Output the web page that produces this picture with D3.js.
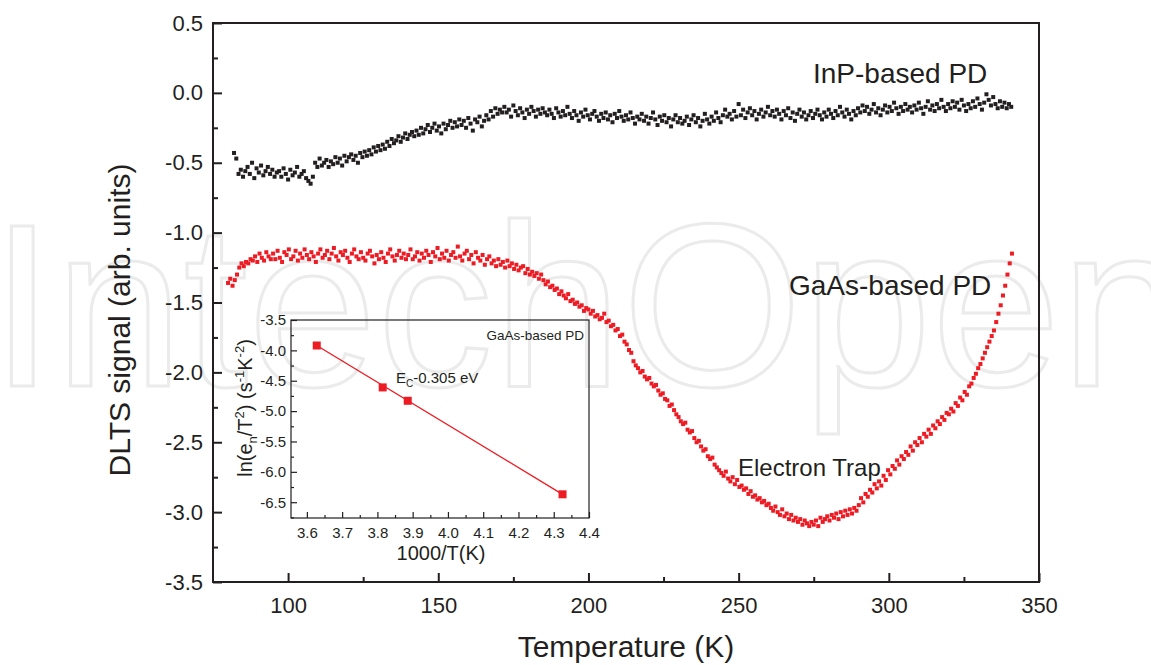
<!DOCTYPE html>
<html>
<head>
<meta charset="utf-8">
<script src="https://cdn.jsdelivr.net/npm/d3@7"></script>
<style>
  body { margin: 0; background: #fff; }
  text { font-family: "Liberation Sans", Arial, sans-serif; fill: #231f20; }
</style>
</head>
<body>
<svg id="chart" width="1151" height="665"></svg>
<script>
// DLTS spectra, sampled every 0.75 K
const tStep = 0.75;
const gaasStart = 80;
const gaasSignal = [
  -1.36,-1.33,-1.38,-1.34,-1.30,-1.25,-1.22,-1.24,-1.21,-1.22,-1.19,-1.20,-1.17,-1.21,-1.15,-1.18,-1.20,-1.14,-1.17,-1.19,
  -1.15,-1.19,-1.13,-1.18,-1.21,-1.14,-1.16,-1.12,-1.19,-1.17,-1.13,-1.20,-1.15,-1.18,-1.12,-1.16,-1.19,-1.14,-1.17,-1.21,
  -1.15,-1.12,-1.18,-1.16,-1.13,-1.19,-1.15,-1.11,-1.17,-1.20,-1.14,-1.16,-1.13,-1.18,-1.21,-1.15,-1.12,-1.17,-1.19,-1.14,
  -1.18,-1.20,-1.15,-1.13,-1.17,-1.22,-1.16,-1.19,-1.14,-1.18,-1.21,-1.15,-1.12,-1.17,-1.20,-1.16,-1.13,-1.18,-1.15,-1.19,
  -1.16,-1.12,-1.19,-1.17,-1.14,-1.20,-1.15,-1.18,-1.13,-1.16,-1.21,-1.14,-1.17,-1.11,-1.19,-1.15,-1.18,-1.13,-1.20,-1.16,
  -1.14,-1.18,-1.10,-1.17,-1.20,-1.15,-1.13,-1.19,-1.16,-1.22,-1.14,-1.18,-1.20,-1.16,-1.23,-1.19,-1.17,-1.22,-1.20,-1.24,
  -1.19,-1.23,-1.21,-1.25,-1.20,-1.24,-1.22,-1.26,-1.23,-1.27,-1.25,-1.24,-1.29,-1.26,-1.30,-1.28,-1.31,-1.29,-1.33,-1.30,
  -1.34,-1.37,-1.35,-1.39,-1.38,-1.41,-1.40,-1.44,-1.42,-1.45,-1.47,-1.44,-1.49,-1.48,-1.51,-1.50,-1.53,-1.52,-1.56,-1.54,
  -1.55,-1.58,-1.56,-1.60,-1.59,-1.62,-1.61,-1.58,-1.64,-1.63,-1.67,-1.66,-1.70,-1.69,-1.74,-1.73,-1.78,-1.80,-1.84,-1.86,
  -1.92,-1.95,-1.97,-2.00,-1.99,-2.03,-2.05,-2.04,-2.08,-2.10,-2.09,-2.13,-2.16,-2.15,-2.19,-2.20,-2.24,-2.23,-2.27,-2.30,
  -2.32,-2.35,-2.37,-2.36,-2.41,-2.43,-2.42,-2.47,-2.50,-2.49,-2.53,-2.56,-2.55,-2.60,-2.62,-2.61,-2.66,-2.68,-2.70,-2.72,
  -2.74,-2.71,-2.76,-2.78,-2.75,-2.80,-2.77,-2.82,-2.81,-2.84,-2.83,-2.87,-2.85,-2.89,-2.88,-2.91,-2.90,-2.93,-2.92,-2.95,
  -2.94,-2.97,-2.99,-2.96,-3.00,-3.02,-2.98,-3.03,-3.01,-3.05,-3.02,-3.06,-3.04,-3.07,-3.05,-3.09,-3.06,-3.08,-3.10,-3.07,
  -3.09,-3.06,-3.10,-3.04,-3.07,-3.05,-3.03,-3.06,-3.02,-3.04,-3.01,-3.05,-3.00,-3.03,-2.99,-3.02,-2.98,-3.01,-2.97,-2.99,
  -2.95,-2.90,-2.93,-2.87,-2.89,-2.84,-2.86,-2.80,-2.83,-2.78,-2.81,-2.74,-2.77,-2.70,-2.73,-2.67,-2.69,-2.63,-2.66,-2.60,
  -2.62,-2.57,-2.59,-2.53,-2.56,-2.50,-2.52,-2.47,-2.50,-2.44,-2.46,-2.41,-2.44,-2.38,-2.40,-2.35,-2.37,-2.32,-2.34,-2.29,
  -2.30,-2.26,-2.28,-2.22,-2.24,-2.18,-2.20,-2.14,-2.16,-2.10,-2.08,-2.04,-2.01,-1.97,-1.94,-1.90,-1.86,-1.82,-1.78,-1.74,
  -1.70,-1.64,-1.58,-1.52,-1.45,-1.38,-1.30,-1.22,-1.15
];
const inpStart = 82;
const inpSignal = [
  -0.43,-0.47,-0.58,-0.55,-0.60,-0.56,-0.53,-0.58,-0.50,-0.61,-0.54,-0.57,-0.52,-0.59,-0.56,-0.53,-0.58,-0.55,-0.60,-0.57,
  -0.56,-0.60,-0.54,-0.58,-0.62,-0.55,-0.59,-0.57,-0.53,-0.60,-0.58,-0.56,-0.61,-0.63,-0.65,-0.60,-0.50,-0.53,-0.47,-0.52,
  -0.50,-0.48,-0.53,-0.49,-0.51,-0.46,-0.50,-0.47,-0.52,-0.45,-0.49,-0.46,-0.44,-0.48,-0.45,-0.50,-0.43,-0.46,-0.42,-0.45,
  -0.41,-0.44,-0.39,-0.42,-0.38,-0.41,-0.37,-0.40,-0.35,-0.38,-0.33,-0.36,-0.34,-0.31,-0.35,-0.32,-0.29,-0.33,-0.30,-0.28,
  -0.31,-0.27,-0.30,-0.25,-0.29,-0.26,-0.23,-0.28,-0.25,-0.22,-0.27,-0.24,-0.29,-0.22,-0.26,-0.23,-0.20,-0.25,-0.21,-0.24,
  -0.19,-0.23,-0.20,-0.25,-0.18,-0.22,-0.27,-0.19,-0.21,-0.17,-0.24,-0.20,-0.16,-0.19,-0.13,-0.17,-0.11,-0.15,-0.12,-0.14,
  -0.10,-0.14,-0.12,-0.17,-0.09,-0.13,-0.16,-0.11,-0.14,-0.18,-0.12,-0.15,-0.10,-0.13,-0.17,-0.12,-0.15,-0.11,-0.14,-0.16,
  -0.12,-0.15,-0.18,-0.11,-0.14,-0.17,-0.13,-0.16,-0.10,-0.15,-0.18,-0.13,-0.16,-0.20,-0.14,-0.17,-0.12,-0.16,-0.19,-0.15,
  -0.13,-0.17,-0.20,-0.15,-0.18,-0.14,-0.19,-0.16,-0.21,-0.15,-0.18,-0.13,-0.17,-0.20,-0.16,-0.19,-0.14,-0.18,-0.22,-0.17,
  -0.19,-0.15,-0.20,-0.17,-0.22,-0.18,-0.14,-0.19,-0.23,-0.17,-0.20,-0.16,-0.21,-0.18,-0.24,-0.19,-0.16,-0.21,-0.18,-0.22,
  -0.20,-0.17,-0.23,-0.19,-0.16,-0.21,-0.18,-0.24,-0.20,-0.15,-0.19,-0.22,-0.17,-0.20,-0.14,-0.18,-0.21,-0.16,-0.12,-0.17,
  -0.15,-0.19,-0.13,-0.17,-0.08,-0.16,-0.12,-0.18,-0.14,-0.11,-0.16,-0.13,-0.19,-0.15,-0.12,-0.17,-0.14,-0.10,-0.16,-0.13,
  -0.17,-0.12,-0.15,-0.19,-0.13,-0.16,-0.11,-0.18,-0.14,-0.20,-0.15,-0.12,-0.17,-0.14,-0.19,-0.16,-0.13,-0.18,-0.15,-0.12,
  -0.16,-0.19,-0.14,-0.17,-0.12,-0.15,-0.18,-0.13,-0.16,-0.10,-0.14,-0.17,-0.12,-0.15,-0.19,-0.13,-0.16,-0.11,-0.14,-0.09,
  -0.13,-0.10,-0.15,-0.12,-0.08,-0.14,-0.11,-0.16,-0.12,-0.09,-0.14,-0.10,-0.13,-0.07,-0.11,-0.15,-0.10,-0.13,-0.08,-0.12,
  -0.10,-0.14,-0.09,-0.12,-0.07,-0.11,-0.15,-0.10,-0.06,-0.12,-0.09,-0.13,-0.08,-0.11,-0.05,-0.10,-0.13,-0.08,-0.11,-0.06,
  -0.10,-0.07,-0.12,-0.05,-0.09,-0.13,-0.08,-0.11,-0.06,-0.10,-0.04,-0.08,-0.12,-0.07,-0.01,-0.05,-0.09,-0.03,-0.08,-0.11,
  -0.06,-0.10,-0.07,-0.11,-0.08,-0.10
];

// Arrhenius inset
const invT = [3.628, 3.815, 3.886, 4.325];
const lnRate = [-3.92, -4.61, -4.83, -6.37];

const mainYTicks = [0.5, 0.0, -0.5, -1.0, -1.5, -2.0, -2.5, -3.0, -3.5];
const mainXTicks = [100, 150, 200, 250, 300, 350];
const insetXTicks = [3.6, 3.7, 3.8, 3.9, 4.0, 4.1, 4.2, 4.3, 4.4];
const insetYTicks = [-3.5, -4.0, -4.5, -5.0, -5.5, -6.0, -6.5];

const ink = "#231f20";
const red = "#ed1c24";

const svg = d3.select("#chart");

// watermark
svg.append("text")
  .attr("x", -10).attr("y", 386)
  .style("font-size", "232px")
  .style("fill", "none")
  .style("stroke", "#ebebeb")
  .style("stroke-width", 3)
  .text("IntechOpen");

// ---- main plot
const x = d3.scaleLinear().domain([75, 350]).range([213, 1039]);
const y = d3.scaleLinear().domain([-3.5, 0.5]).range([582, 23]);

function styleAxis(g) {
  g.select(".domain").remove();
  g.selectAll("line").attr("stroke", ink).attr("stroke-width", 2);
}

svg.append("g").attr("transform", "translate(213,0)")
  .call(d3.axisLeft(y).tickValues(mainYTicks).tickSize(-9).tickPadding(10).tickFormat(d3.format(".1f")))
  .call(styleAxis)
  .selectAll("text").style("font-size", "22px").style("fill", ink).text(d => d3.format(".1f")(d).replace("−", "-"));

svg.append("g").attr("transform", "translate(213,0)")
  .call(d3.axisLeft(y).tickValues(d3.range(-3.25, 0.5, 0.5)).tickSize(-5).tickFormat(""))
  .call(styleAxis);

svg.append("g").attr("transform", "translate(0,582)")
  .call(d3.axisBottom(x).tickValues(mainXTicks).tickSize(-9).tickPadding(15))
  .call(styleAxis)
  .selectAll("text").style("font-size", "22px").style("fill", ink);

svg.append("g").attr("transform", "translate(0,582)")
  .call(d3.axisBottom(x).tickValues([125, 175, 225, 275, 325]).tickSize(-5).tickFormat(""))
  .call(styleAxis);

svg.append("rect")
  .attr("x", x(75)).attr("y", y(0.5))
  .attr("width", x(350) - x(75)).attr("height", y(-3.5) - y(0.5))
  .attr("fill", "none").attr("stroke", ink).attr("stroke-width", 2);

svg.append("text")
  .attr("transform", "translate(130,320) rotate(-90)")
  .attr("text-anchor", "middle")
  .style("font-size", "30px")
  .text("DLTS signal (arb. units)");

svg.append("text")
  .attr("x", 626).attr("y", 657)
  .attr("text-anchor", "middle")
  .style("font-size", "30px")
  .text("Temperature (K)");

// scatter points
function drawSeries(start, values, color) {
  svg.append("g").selectAll("rect")
    .data(values)
    .join("rect")
    .attr("x", (d, i) => x(start + i * tStep) - 2)
    .attr("y", d => y(d) - 2)
    .attr("width", 4).attr("height", 4)
    .attr("fill", color);
}
drawSeries(inpStart, inpSignal, ink);
drawSeries(gaasStart, gaasSignal, red);

svg.append("text").attr("x", 813).attr("y", 83).style("font-size", "28px").text("InP-based PD");
svg.append("text").attr("x", 789).attr("y", 295).style("font-size", "28px").text("GaAs-based PD");
svg.append("text").attr("x", 738).attr("y", 476).style("font-size", "24px").text("Electron Trap");

// ---- inset
const ix = d3.scaleLinear().domain([3.555, 4.4]).range([291, 589]);
const iy = d3.scaleLinear().domain([-6.76, -3.5]).range([518, 320]);

function styleInset(g) {
  g.select(".domain").remove();
  g.selectAll("line").attr("stroke", ink).attr("stroke-width", 1.2);
}

svg.append("g").attr("transform", "translate(291,0)")
  .call(d3.axisLeft(iy).tickValues(insetYTicks).tickSize(-6).tickPadding(5).tickFormat(d3.format(".1f")))
  .call(styleInset)
  .selectAll("text").style("font-size", "15px").style("fill", ink).text(d => d3.format(".1f")(d).replace("−", "-"));

svg.append("g").attr("transform", "translate(291,0)")
  .call(d3.axisLeft(iy).tickValues([-6.75, -6.25, -5.75, -5.25, -4.75, -4.25, -3.75]).tickSize(-3).tickFormat(""))
  .call(styleInset);

svg.append("g").attr("transform", "translate(0,518)")
  .call(d3.axisBottom(ix).tickValues(insetXTicks).tickSize(-6).tickPadding(9).tickFormat(d3.format(".1f")))
  .call(styleInset)
  .selectAll("text").style("font-size", "15px").style("fill", ink);

svg.append("g").attr("transform", "translate(0,518)")
  .call(d3.axisBottom(ix).tickValues([3.65, 3.75, 3.85, 3.95, 4.05, 4.15, 4.25, 4.35]).tickSize(-3).tickFormat(""))
  .call(styleInset);

svg.append("rect")
  .attr("x", ix(3.555)).attr("y", iy(-3.5))
  .attr("width", ix(4.4) - ix(3.555)).attr("height", iy(-6.76) - iy(-3.5))
  .attr("fill", "none").attr("stroke", ink).attr("stroke-width", 1.2);

svg.append("line")
  .attr("x1", ix(invT[0])).attr("y1", iy(lnRate[0]))
  .attr("x2", ix(invT[3])).attr("y2", iy(lnRate[3]))
  .attr("stroke", red).attr("stroke-width", 1.4);

svg.append("g").selectAll("rect")
  .data(invT.map((v, i) => [v, lnRate[i]]))
  .join("rect")
  .attr("x", d => ix(d[0]) - 4).attr("y", d => iy(d[1]) - 4)
  .attr("width", 8).attr("height", 8)
  .attr("fill", red);

svg.append("text")
  .attr("x", 441).attr("y", 560)
  .attr("text-anchor", "middle")
  .style("font-size", "20px")
  .text("1000/T(K)");

svg.append("text")
  .attr("x", 584).attr("y", 340)
  .attr("text-anchor", "end")
  .style("font-size", "13.5px")
  .text("GaAs-based PD");

const ec = svg.append("text").attr("x", 396).attr("y", 383).style("font-size", "15px");
ec.append("tspan").text("E");
ec.append("tspan").attr("dy", 4).style("font-size", "10px").text("C");
ec.append("tspan").attr("dy", -4).text("-0.305 eV");

const yl = svg.append("text")
  .attr("transform", "translate(252,408) rotate(-90)")
  .attr("text-anchor", "middle")
  .style("font-size", "20px");
yl.append("tspan").text("ln(e");
yl.append("tspan").attr("dy", 5).style("font-size", "13px").text("n");
yl.append("tspan").attr("dy", -5).text("/T");
yl.append("tspan").attr("dy", -8).style("font-size", "13px").text("2");
yl.append("tspan").attr("dy", 8).text(") (s");
yl.append("tspan").attr("dy", -8).style("font-size", "13px").text("-1");
yl.append("tspan").attr("dy", 8).text("K");
yl.append("tspan").attr("dy", -8).style("font-size", "13px").text("-2");
yl.append("tspan").attr("dy", 8).text(")");
</script>
</body>
</html>
